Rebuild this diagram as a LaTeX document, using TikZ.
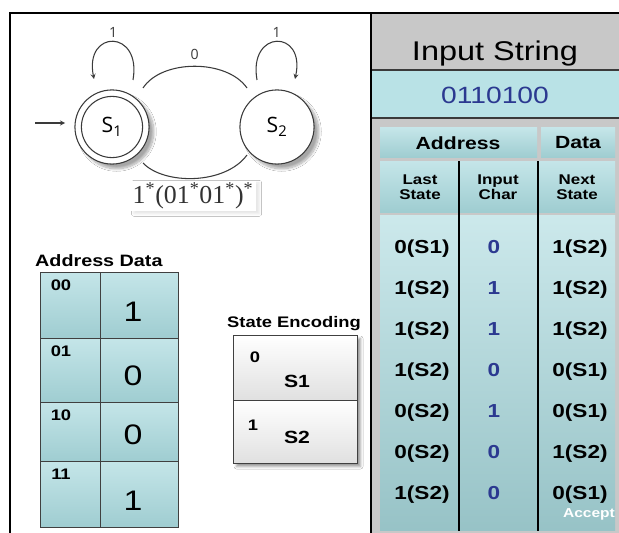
\documentclass[tikz,border=0pt]{standalone}
\usepackage{fontspec}
\setmainfont[FakeStretch=1.2]{Liberation Sans}
\newfontfamily\diagfont{Open Sans}
\newfontfamily\regexfont{Liberation Serif}
\usetikzlibrary{arrows, shapes, calc, shadows.blur}

\definecolor{cellblue}{HTML}{B6DFE3}
\definecolor{celldark}{HTML}{9FCDD1}
\definecolor{panelgray}{HTML}{C8C8C8}
\definecolor{bandblue}{HTML}{B9E2E6}
\definecolor{digitblue}{HTML}{2B3990}
\definecolor{linegray}{HTML}{3A3A3A}

\begin{document}
\begin{tikzpicture}[x=0.85pt, y=-0.85pt,
	state/.style={circle, draw=linegray, line width=0.9pt, fill=white, minimum size=63pt, inner sep=0pt, font=\diagfont\fontsize{18}{18}\selectfont, blur shadow={shadow xshift=4pt, shadow yshift=-4pt, shadow blur steps=10, shadow opacity=35}},
	edge/.style={draw=linegray, line width=0.9pt},
	lbl/.style={font=\diagfont\fontsize{12}{12}\selectfont, text=linegray},
	cell/.style={draw=black!75, line width=0.8pt, top color=cellblue!80!white, bottom color=celldark},
	enccell/.style={draw=black!75, line width=0.8pt, top color=white, bottom color=black!12},
	head/.style={font=\bfseries\fontsize{15}{15}\selectfont},
	sub/.style={font=\bfseries\fontsize{12}{13}\selectfont, align=center},
	val/.style={anchor=base, font=\bfseries\fontsize{16}{16}\selectfont},
	adr/.style={font=\bfseries\fontsize{13}{13}\selectfont},
	dat/.style={font=\fontsize{24}{24}\selectfont}]
	\def\splitx{371}
	\def\bandtop{70}
	\def\bandbot{118}
	\def\colA{459}
	\def\colB{538}

	\useasboundingbox (0,0) rectangle (619,533);
	\fill[white]				(0,0) rectangle (619,533);

	% right panel
	\fill[panelgray]			(\splitx,13) rectangle (619,533);
	\fill[bandblue]				(\splitx,\bandtop) rectangle (619,\bandbot);
	\draw[linegray, line width=1pt]	(\splitx,\bandtop) -- (619,\bandtop);
	\draw[linegray, line width=1pt]	(\splitx,\bandbot) -- (619,\bandbot);
	\node[anchor=base, font=\fontsize{23}{23}\selectfont] (title) at (495,61) {Input String};
	\node[text=digitblue, font=\fontsize{20}{20}\selectfont] (word) at (495,95) {0110100};

	\fill[cell, draw=none]		(380,128) rectangle (537,157);
	\fill[cell, draw=none]		(541,128) rectangle (615,157);
	\node[head] (adrhead) at (458,143) {Address};
	\node[head] (dathead) at (578,143) {Data};
	\fill[cell, draw=none]		(380,161) rectangle (\colA,212);
	\fill[cell, draw=none]		(\colA,161) rectangle (\colB,212);
	\fill[cell, draw=none]		(\colB,161) rectangle (615,212);
	\node[sub] (lasthead) at (420,187) {Last\\State};
	\node[sub] (charhead) at (498,187) {Input\\Char};
	\node[sub] (nexthead) at (577,187) {Next\\State};
	\shade[top color=cellblue!70!white, bottom color=celldark!95!black]	(380,215) rectangle (615,530);
	\draw[black, line width=2pt]	(\colA,161) -- (\colA,531);
	\draw[black, line width=2pt]	(\colB,161) -- (\colB,531);
	\foreach \lst/\chr/\nxt [count=\i] in {0(S1)/0/1(S2), 1(S2)/1/1(S2), 1(S2)/1/1(S2), 1(S2)/0/0(S1), 0(S2)/1/0(S1), 0(S2)/0/1(S2), 1(S2)/0/0(S1)}{
		\node[val] (last\i) at (422,{212+41*\i}) {\lst};
		\node[val, text=digitblue] (char\i) at (494,{212+41*\i}) {\chr};
		\node[val] (next\i) at (580,{212+41*\i}) {\nxt};
	}
	\node[text=white, font=\bfseries\fontsize{11}{11}\selectfont] (accept) at (589,514) {Accept};

	% frame
	\draw[black, line width=1.4pt]	(10,540) -- (10,13) -- (625,13);
	\draw[black, line width=1.4pt]	(\splitx,13) -- (\splitx,540);

	% state diagram
	\node[state] (s1) at (112,127) {S\textsubscript{1}};
	\draw[linegray, line width=0.9pt]	(s1.center) circle (26pt);
	\node[state] (s2) at (277,127) {S\textsubscript{2}};
	\coordinate (entry) at (35,123);
	\draw[edge, -stealth, shorten >=8pt]	(entry) -- (s1.west |- entry);
	\draw[edge]	($(s1)+(31,-39)$) .. controls ($(s1)+(50,-68)$) and ($(s2)+(-50,-68)$) .. node[lbl, above=2pt] (zero) {0} ($(s2)+(-30,-39)$);
	\draw[edge]	($(s1)+(31,36)$) .. controls ($(s1)+(52,58)$) and ($(s2)+(-52,58)$) .. ($(s2)+(-30,28)$);
	\draw[edge, -stealth]	($(s1)+(21,-47)$) .. controls ($(s1)+(30,-98)$) and ($(s1)+(-28,-98)$) .. node[lbl, above] (one1) {1} ($(s1)+(-18,-48)$);
	\draw[edge, -stealth]	($(s2)+(-20,-47)$) .. controls ($(s2)+(-29,-98)$) and ($(s2)+(29,-98)$) .. node[lbl, above] (one2) {1} ($(s2)+(18,-48)$);
	\node[fill=white, inner sep=2pt, font=\regexfont\fontsize{22}{22}\selectfont, text=black!80, blur shadow={shadow xshift=3pt, shadow yshift=-2pt, shadow opacity=10}] (regex) at (193,196) {1\textsuperscript{*}(01\textsuperscript{*}01\textsuperscript{*})\textsuperscript{*}};

	% memory table
	\node[anchor=base west, font=\bfseries\fontsize{14}{14}\selectfont] (memhead) at (31,266) {Address Data};
	\foreach \adrtxt/\dattxt/\ytop/\ybot [count=\i] in {00/1/272/338, 01/0/338/402, 10/0/402/461, 11/1/461/527}{
		\filldraw[cell]			(40,\ytop) rectangle (100,\ybot);
		\filldraw[cell]			(100,\ytop) rectangle (178,\ybot);
		\node[adr] (adr\i) at (61,\ytop+13) {\adrtxt};
		\node[dat] (dat\i) at (133,\ybot-26) {\dattxt};
	}

	% state encoding
	\node[anchor=base, font=\bfseries\fontsize{13}{13}\selectfont] (enchead) at (294,327) {State Encoding};
	\fill[black!35, blur shadow={shadow xshift=3pt, shadow yshift=-3pt, shadow opacity=40}]	(233,335) rectangle (357,463);
	\filldraw[enccell]		(233,335) rectangle (357,400);
	\filldraw[enccell]		(233,400) rectangle (357,463);
	\node[adr] (code1) at (255,357) {0};
	\node[font=\bfseries\fontsize{15}{15}\selectfont] (name1) at (297,381) {S1};
	\node[adr] (code2) at (253,425) {1};
	\node[font=\bfseries\fontsize{15}{15}\selectfont] (name2) at (297,437) {S2};
\end{tikzpicture}
\end{document}
